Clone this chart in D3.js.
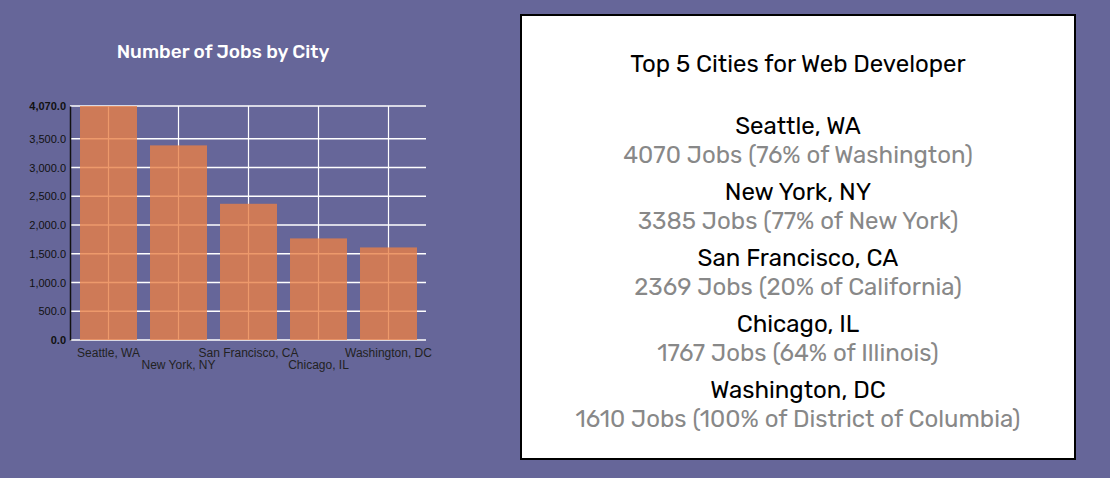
<!DOCTYPE html>
<html>
<head>
<meta charset="utf-8">
<script src="https://cdn.jsdelivr.net/npm/d3@7"></script>
<style>
  body { margin: 0; background: #666699; font-family: Rubik, Roboto, sans-serif; }
  svg { display: block; }
</style>
</head>
<body>
<svg id="viz" width="1110" height="478"></svg>
<script>
// chart data
var cities = ["Seattle, WA", "New York, NY", "San Francisco, CA", "Chicago, IL", "Washington, DC"];
var jobs = [4070, 3385, 2369, 1767, 1610];
var percents = [76, 77, 20, 64, 100];
var states = ["Washington", "New York", "California", "Illinois", "District of Columbia"];
var yTicks = [0, 500, 1000, 1500, 2000, 2500, 3000, 3500, 4070];

var svg = d3.select("#viz");

// bar chart area
var margin = {top: 106, left: 70},
    width = 356,
    height = 234;

var chart = svg.append("g")
    .attr("transform", "translate(" + margin.left + "," + margin.top + ")");

var x = d3.scaleBand()
    .domain(cities)
    .range([0, width + 1])
    .paddingInner(0.186)
    .paddingOuter(0.143);

var y = d3.scaleLinear()
    .domain([0, d3.max(jobs)])
    .range([height, 0]);

// title
svg.append("text")
    .attr("x", 223)
    .attr("y", 58)
    .attr("text-anchor", "middle")
    .style("font-size", "19px")
    .style("font-weight", "500")
    .style("fill", "#fff")
    .text("Number of Jobs by City");

// horizontal grid
chart.selectAll(".hgrid")
    .data(yTicks)
    .enter().append("line")
    .attr("x1", 0)
    .attr("x2", width)
    .attr("y1", function(d) { return y(d); })
    .attr("y2", function(d) { return y(d); })
    .attr("stroke", "#fff")
    .attr("stroke-width", 1.5);

// vertical grid at band centres
chart.selectAll(".vgrid")
    .data(cities)
    .enter().append("line")
    .attr("x1", function(d) { return x(d) + x.bandwidth() / 2; })
    .attr("x2", function(d) { return x(d) + x.bandwidth() / 2; })
    .attr("y1", 0)
    .attr("y2", height)
    .attr("stroke", "#fff")
    .attr("stroke-width", 1.2);

// bars
chart.selectAll(".bar")
    .data(jobs)
    .enter().append("rect")
    .attr("class", "bar")
    .attr("x", function(d, i) { return x(cities[i]); })
    .attr("y", function(d) { return y(d); })
    .attr("width", x.bandwidth())
    .attr("height", function(d) { return height - y(d); })
    .style("fill", "rgb(232,128,70)")
    .style("opacity", 0.8);

// y axis
var yAxis = chart.append("g")
    .call(d3.axisLeft(y).tickValues(yTicks).tickFormat(d3.format(",.1f")).tickSize(0).tickPadding(4));
yAxis.select(".domain").attr("stroke", "#111").attr("stroke-width", 1.5);
yAxis.selectAll("text")
    .style("font-family", "Arial, 'Liberation Sans', sans-serif")
    .style("font-size", "11px")
    .style("fill", "#111")
    .style("font-weight", function(d) { return (d == 0 || d == d3.max(jobs)) ? "bold" : "normal"; });

// x labels, staggered
chart.selectAll(".xlabel")
    .data(cities)
    .enter().append("text")
    .attr("x", function(d) { return x(d) + x.bandwidth() / 2; })
    .attr("y", function(d, i) { return height + (i % 2 == 0 ? 17 : 29); })
    .attr("text-anchor", "middle")
    .style("font-family", "Arial, 'Liberation Sans', sans-serif")
    .style("font-size", "12px")
    .style("fill", "#222")
    .text(function(d) { return d; });

// right summary panel
var panel = svg.append("g");
panel.append("rect")
    .attr("x", 521)
    .attr("y", 15)
    .attr("width", 554)
    .attr("height", 444)
    .attr("fill", "#fff")
    .attr("stroke", "#000")
    .attr("stroke-width", 2);

var cx = 798;
panel.append("text")
    .attr("x", cx)
    .attr("y", 72)
    .attr("text-anchor", "middle")
    .style("font-size", "24px")
    .style("fill", "#000")
    .text("Top 5 Cities for Web Developer");

var rows = panel.selectAll(".row")
    .data(cities)
    .enter().append("g")
    .attr("transform", function(d, i) { return "translate(" + cx + "," + (134 + i * 66) + ")"; });

rows.append("text")
    .attr("text-anchor", "middle")
    .style("font-size", "24px")
    .style("fill", "#000")
    .text(function(d) { return d; });

rows.append("text")
    .attr("y", 29)
    .attr("text-anchor", "middle")
    .style("font-size", "24px")
    .style("fill", "#888")
    .text(function(d, i) { return jobs[i] + " Jobs (" + percents[i] + "% of " + states[i] + ")"; });
</script>
</body>
</html>
